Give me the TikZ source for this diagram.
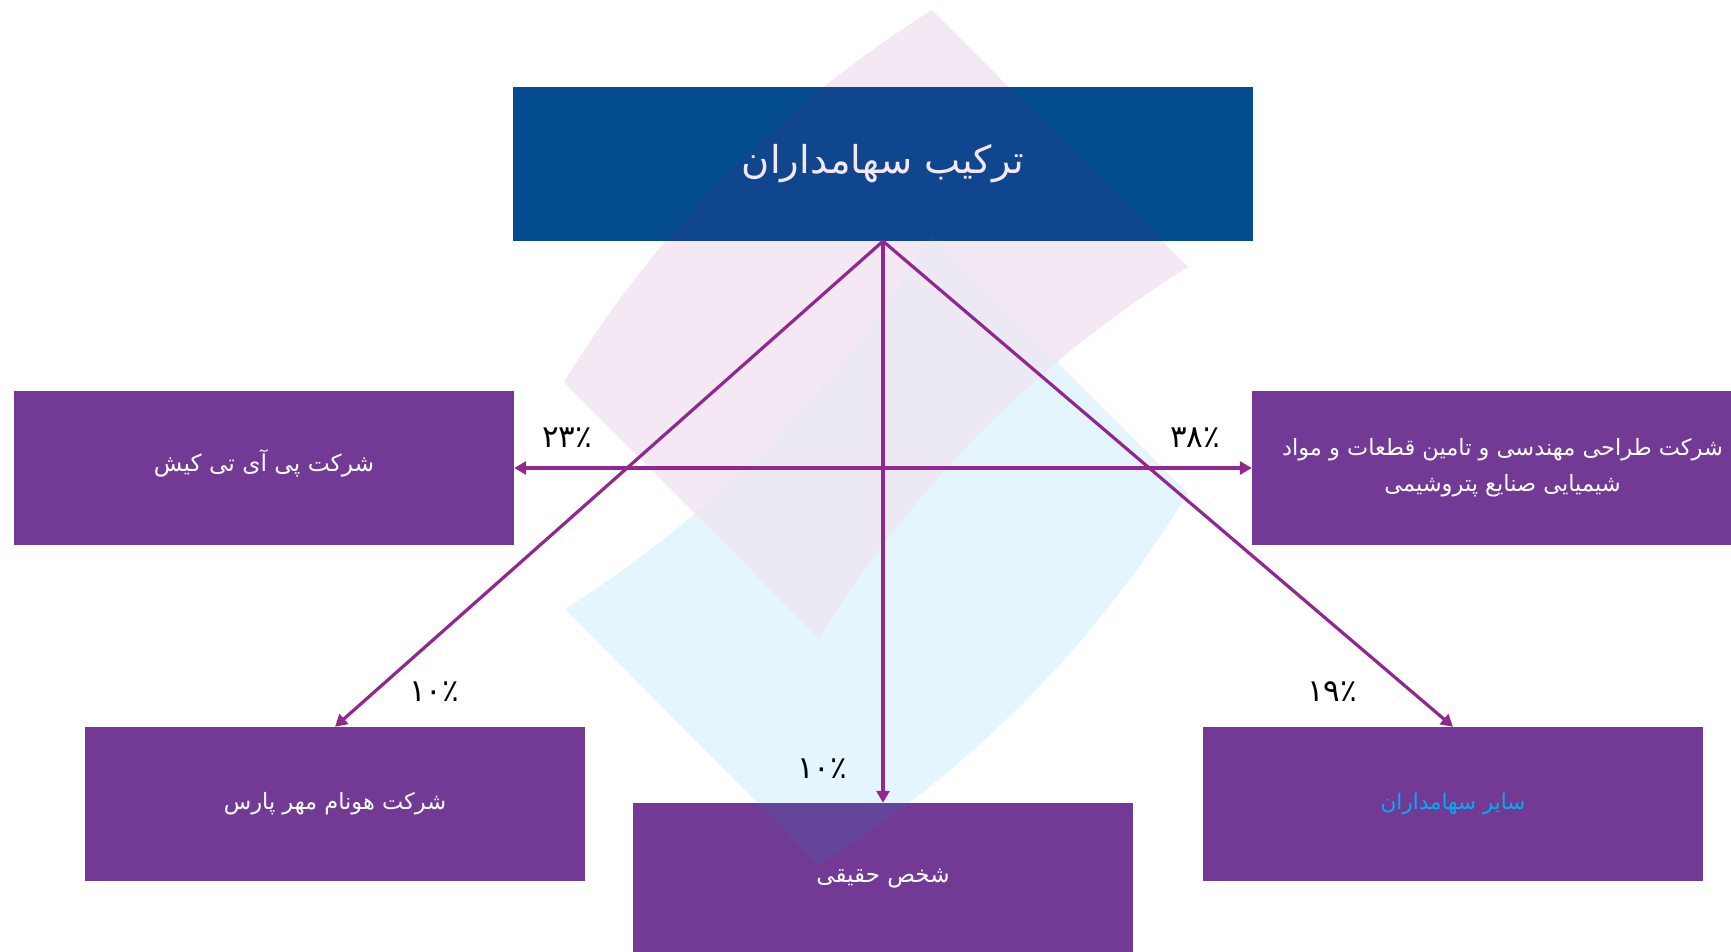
\documentclass[tikz,border=0pt]{standalone}
\usepackage{fontspec}
\setmainfont{DejaVu Sans}
\newfontfamily\arabicfont[Script=Arabic]{DejaVu Sans}
\TeXXeTstate=1
\usetikzlibrary{arrows.meta}
\definecolor{boxpurple}{HTML}{723A94}
\definecolor{boxblue}{HTML}{034C8E}
\definecolor{arrowpurple}{HTML}{92278F}
\definecolor{overlaypink}{HTML}{871987}
\definecolor{overlayblue}{HTML}{00A5E8}
\definecolor{overlapcolor}{HTML}{ECE9F4}
\definecolor{softblue}{HTML}{00AEEF}
\newcommand{\shifttext}[2]{\raisebox{#1}[20pt][20pt]{#2}}
\newcommand{\fsize}[1]{\fontsize{#1}{36}\selectfont}
\tikzset{
  boxnode/.style={fill=boxpurple,text=white,inner sep=0pt,minimum width=500pt,minimum height=154pt,align=center,font=\arabicfont\fontsize{22.5}{36}\selectfont},
  titlenode/.style={fill=boxblue,text=white,inner sep=0pt,minimum width=740pt,minimum height=154pt,font=\arabicfont\fontsize{38.4}{44}\selectfont},
  pct/.style={text=black,inner sep=0pt,font=\arabicfont\fontsize{31}{36}\selectfont},
  link/.style={draw=arrowpurple,line width=3.2pt,-{Triangle[length=12pt,width=13pt]}},
  linkboth/.style={draw=arrowpurple,line width=3.2pt,{Triangle[length=12pt,width=13pt]}-{Triangle[length=12pt,width=13pt]}}
}
\newcommand{\pinkshape}{(564,382) .. controls (658,229) and (781,105) .. (932,10) -- (1188,267) .. controls (1036,362) and (913,485) .. (819,638) -- cycle}
\newcommand{\blueshape}{(565,609) .. controls (715,514) and (838,389) .. (932,236) -- (1188,493) .. controls (1094,646) and (971,770) .. (819,865) -- cycle}
\begin{document}
\begin{tikzpicture}[x=1pt,y=-1pt]
\useasboundingbox (0,0) rectangle (1731,952);
\node[titlenode] (top) at (883,164) {\beginR ترکیب سهامداران\endR};
\node[boxnode,minimum width=500pt] (left) at (264,468) {\shifttext{-3pt}{\fsize{23.3}\beginR شرکت پی آی تی کیش\endR}};
\node[boxnode,minimum width=479pt] (right) at (1491.5,468) {\hspace*{22pt}\beginR شرکت طراحی مهندسی و تامین قطعات و مواد\endR\\\hspace*{22pt}\beginR شیمیایی صنایع پتروشیمی\endR};
\node[boxnode] (bl) at (335,804) {\shifttext{-5pt}{\beginR شرکت هونام مهر پارس\endR}};
\node[boxnode,minimum height=149pt] (mid) at (883,877.5) {\shifttext{-5pt}{\fsize{23}\beginR شخص حقیقی\endR}};
\node[boxnode,text=softblue] (br) at (1453,804) {\shifttext{-5pt}{\fsize{21.5}\beginR سایر سهامداران\endR}};
% translucent background shapes
\fill[overlaypink,fill opacity=0.1] \pinkshape;
\fill[overlayblue,fill opacity=0.105] \blueshape;
% lighter overlap of the two shapes, below the title box
\begin{scope}
  \clip (0,241) rectangle (1731,952);
  \clip \pinkshape;
  \fill[overlapcolor] \blueshape;
\end{scope}
% connectors
\draw[link] (top.south) -- (bl.north);
\draw[link] (top.south) -- (mid.north);
\draw[link] (top.south) -- (br.north);
\draw[linkboth] (left.east) -- (right.west);
% percentages
\node[pct] (p23) at (567,438) {\beginR ۲۳٪\endR};
\node[pct] (p38) at (1195,438) {\beginR ۳۸٪\endR};
\node[pct] (p10a) at (434,692) {\beginR ۱۰٪\endR};
\node[pct] (p10b) at (822,769) {\beginR ۱۰٪\endR};
\node[pct] (p19) at (1332,692) {\beginR ۱۹٪\endR};
\end{tikzpicture}
\end{document}
